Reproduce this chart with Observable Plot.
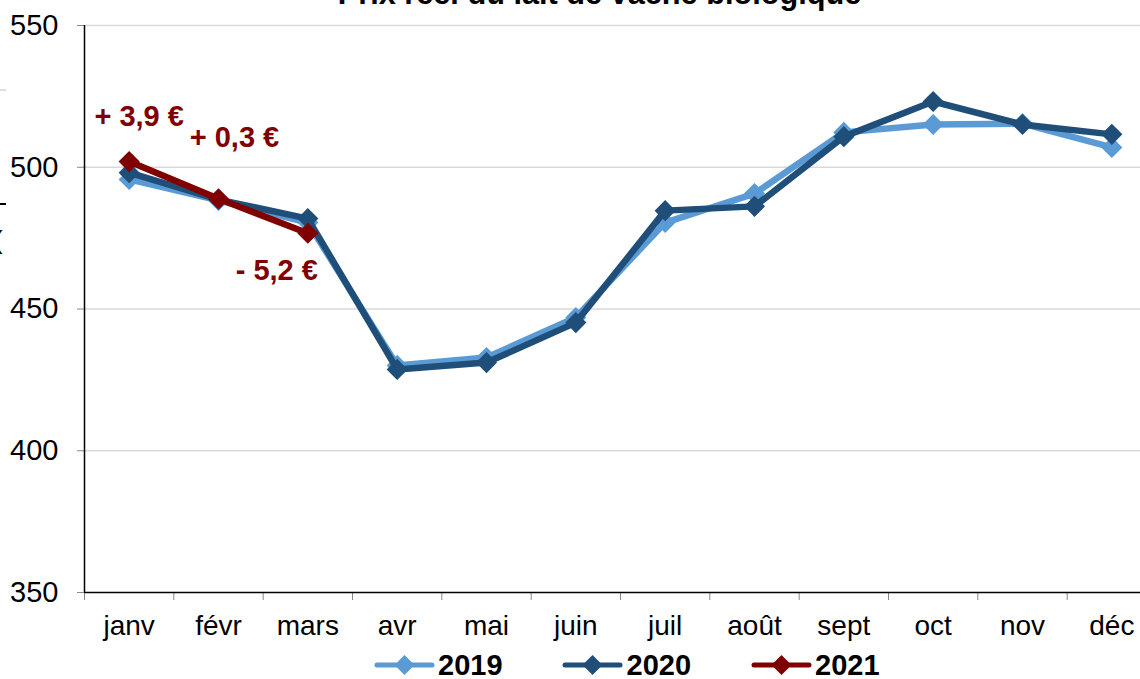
<!DOCTYPE html>
<html><head><meta charset="utf-8">
<script src="https://cdn.jsdelivr.net/npm/d3@7"></script>
<script src="https://cdn.jsdelivr.net/npm/@observablehq/plot@0.6"></script>
<style>
body{margin:0;background:#fff;overflow:hidden;font-family:"Liberation Sans",Arial,sans-serif;}
#wrap{position:relative;width:1140px;height:679px;overflow:hidden;}
#title{position:absolute;top:-21px;left:29.5px;width:1140px;text-align:center;font-weight:bold;font-size:30.7px;line-height:30.7px;color:#000;white-space:nowrap;}
#chart{position:absolute;top:0;left:0;}
#legend{position:absolute;top:652px;left:373.5px;display:flex;}
.item{display:flex;align-items:center;width:188.5px;height:26px;font-weight:bold;font-size:29px;line-height:26px;color:#000;}
.item svg{margin-right:3.5px;flex:none;}
.edge1{position:absolute;left:0;top:89px;width:6px;height:2px;background:#ddd;}
.edge2{position:absolute;left:0;top:203px;width:6px;height:1.5px;background:#000;}
.edge3{position:absolute;left:-6px;top:226px;font-size:26px;line-height:28px;color:#000;}
</style></head><body>
<div id="wrap"><div id="chart"></div><div id="title">Prix réel du lait de vache biologique</div><div id="legend"></div>
<div class="edge1"></div><div class="edge2"></div><div class="edge3">(</div></div>
<script>
const months = ["janv","févr","mars","avr","mai","juin","juil","août","sept","oct","nov","déc"];
const years = ["2019","2020","2021"];
const colors = ["#5B9BD5","#1F4E79","#800000"];
const values2019 = [495.7,488.3,480.5,430.1,432.9,447.0,480.5,490.7,512.3,515.1,515.4,507.0];
const values2020 = [498.1,488.6,481.9,428.7,431.1,445.2,484.7,486.2,510.8,523.2,515.1,511.6];
const values2021 = [502.0,488.9,476.7];
const annotations = ["+ 3,9 €","+ 0,3 €","- 5,2 €"];
const yTicks = [350,400,450,500,550];

const series = [values2019, values2020, values2021];
const rows = series.flatMap((vals,k)=>vals.map((v,i)=>({year:years[k], i, x:i+0.5, value:v})));
const annRows = annotations.map((t,i)=>({x:i+0.5, value:values2021[i], text:t}));
const annOffsets = [[10,-45],[16,-61],[-31,37]];

const plot = Plot.plot({
  width:1140, height:645, marginLeft:84, marginRight:-16, marginTop:25, marginBottom:53,
  style:{fontFamily:"Liberation Sans, Arial, sans-serif", fontSize:"28px", color:"#000", background:"transparent"},
  x:{type:"linear", domain:[0,12]},
  y:{domain:[350,550]},
  color:{domain:years, range:colors},
  marks:[
    Plot.gridY(yTicks.filter(t=>t>350), {stroke:"#d9d9d9", strokeOpacity:1, strokeWidth:1.3}),
    Plot.axisY(yTicks, {tickSize:7, tickPadding:19, fontSize:29, stroke:"#888", label:null}),
    Plot.axisX(d3.range(13), {tickSize:8, tickFormat:()=>"", stroke:"#888", label:null}),
    Plot.axisX(d3.range(12).map(i=>i+0.5), {tickSize:0, tickPadding:23, tickFormat:d=>months[Math.floor(d)], fontSize:28, label:null}),
    Plot.ruleY([350],{stroke:"#000", strokeWidth:1.5}),
    Plot.ruleX([0],{stroke:"#000", strokeWidth:1.5}),
    ...years.flatMap(y=>[
      Plot.line(rows.filter(r=>r.year===y), {x:"x", y:"value", stroke:"year", strokeWidth:6.5}),
      Plot.dot(rows.filter(r=>r.year===y), {x:"x", y:"value", fill:"year", symbol:"diamond2", r:9.5})
    ]),
    ...annRows.map((a,i)=>Plot.text([a], {x:"x", y:"value", text:"text", dx:annOffsets[i][0], dy:annOffsets[i][1], fill:colors[2], fontWeight:"bold", fontSize:29}))
  ]
});
document.getElementById("chart").appendChild(plot);

const legend = document.getElementById("legend");
years.forEach((y,k)=>{
  const item = document.createElement("div");
  item.className = "item";
  item.innerHTML = `<svg width="61" height="24" viewBox="0 0 61 24"><line x1="3" y1="12" x2="58" y2="12" stroke="${colors[k]}" stroke-width="5" stroke-linecap="round"/><path d="M30.5 2 L40.5 12 L30.5 22 L20.5 12 Z" fill="${colors[k]}"/></svg><span>${y}</span>`;
  legend.appendChild(item);
});
</script>
</body></html>
